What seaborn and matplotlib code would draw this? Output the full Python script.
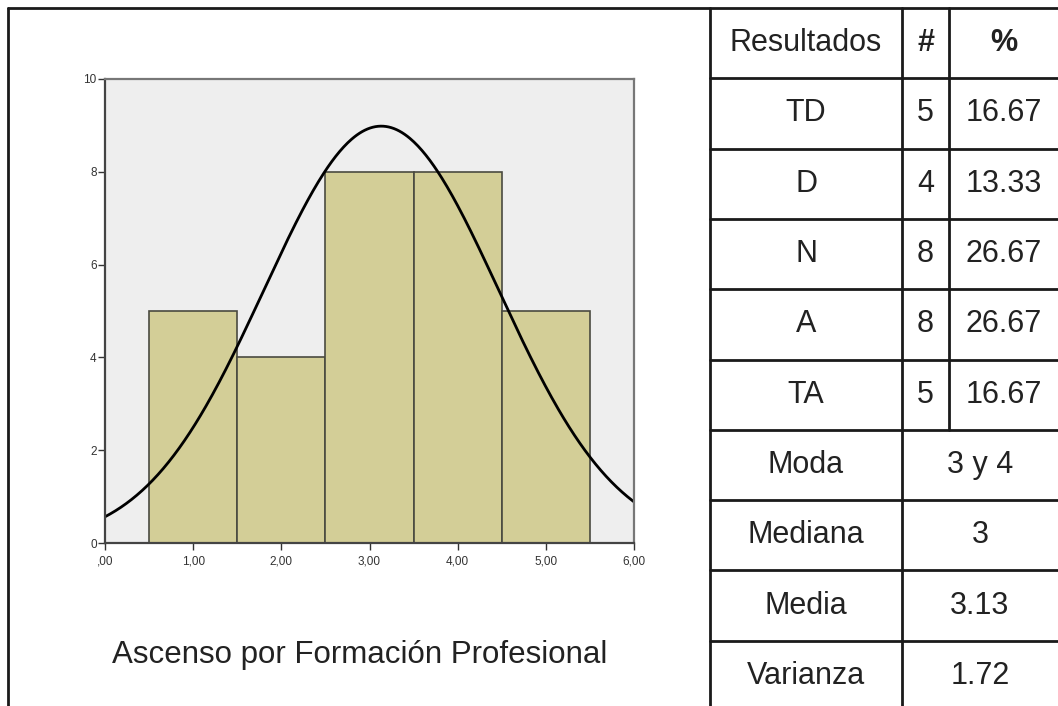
import numpy as np
import pandas as pd
import matplotlib
matplotlib.use("Agg")
import matplotlib.pyplot as plt
from matplotlib.lines import Line2D
import seaborn as sns

# ---------------- data ----------------
values = [1, 2, 3, 4, 5]
counts = [5, 4, 8, 8, 5]
bin_edges = [0.5, 1.5, 2.5, 3.5, 4.5, 5.5]
x_ticks = [0, 1, 2, 3, 4, 5, 6]
x_ticklabels = [",00", "1,00", "2,00", "3,00", "4,00", "5,00", "6,00"]
y_ticks = [0, 2, 4, 6, 8, 10]
chart_title = "Ascenso por Formación Profesional"

table_header = ["Resultados", "#", "%"]
row_labels = ["TD", "D", "N", "A", "TA"]
row_counts = ["5", "4", "8", "8", "5"]
row_pcts = ["16.67", "13.33", "26.67", "26.67", "16.67"]
stat_labels = ["Moda", "Mediana", "Media", "Varianza"]
stat_values = ["3 y 4", "3", "3.13", "1.72"]

# ---------------- figure ----------------
sns.set_style("white")
plt.rcParams["font.family"] = ["Liberation Sans", "DejaVu Sans"]

W, H = 1058, 706
fig = plt.figure(figsize=(W / 100, H / 100), dpi=100)


def fx(px):
    return px / W


def fy(py):
    return 1 - py / H


# axes placement (pixels)
ax_l, ax_r, ax_t, ax_b = 105, 634, 79, 543
ax = fig.add_axes([fx(ax_l), fy(ax_b), fx(ax_r - ax_l), fy(ax_t) - fy(ax_b)])
ax.set_facecolor("#EEEEEE")

df = pd.DataFrame({"valor": values, "n": counts})
sns.histplot(data=df, x="valor", weights="n", bins=bin_edges, ax=ax,
             color="#D3CE97", alpha=1.0, edgecolor="#4a4a40", linewidth=1.2)

# normal curve fitted to the data
obs = np.repeat(values, counts)
mu = obs.mean()
sd = obs.std(ddof=1)
n = len(obs)
bw = bin_edges[1] - bin_edges[0]
xs = np.linspace(0, 6, 400)
ys = n * bw * np.exp(-0.5 * ((xs - mu) / sd) ** 2) / (sd * np.sqrt(2 * np.pi))
sns.lineplot(x=xs, y=ys, ax=ax, color="black", linewidth=2.0)

ax.set_xlim(0, 6)
ax.set_ylim(0, 10)
ax.set_xticks(x_ticks)
ax.set_xticklabels(x_ticklabels)
ax.set_yticks(y_ticks)
ax.set_xlabel("")
ax.set_ylabel("")
ax.tick_params(axis="both", which="both", direction="out", length=5, width=1,
               colors="#333333", labelsize=8.5, bottom=True, left=True)
ax.tick_params(axis="x", pad=4)
ax.tick_params(axis="y", pad=1)
for s in ["left", "bottom"]:
    ax.spines[s].set_color("#444444")
    ax.spines[s].set_linewidth(1.6)
for s in ["top", "right"]:
    ax.spines[s].set_visible(True)
    ax.spines[s].set_color("#777777")
    ax.spines[s].set_linewidth(1.6)

# title under the chart
fig.text(fx(360), fy(655), chart_title, ha="center", va="center",
         fontsize=22.5, color="#222222")

# ---------------- frame and table ----------------
lc = "#1a1a1a"
lw = 2.0
frame_l, frame_t = 8, 8
fig.add_artist(Line2D([fx(frame_l), 1], [fy(frame_t), fy(frame_t)], color=lc, lw=lw))
fig.add_artist(Line2D([fx(frame_l), fx(frame_l)], [fy(frame_t), 0], color=lc, lw=lw))

tab_l, col1, col2, tab_r = 710, 902, 949, 1058
row_top = 8
row_h = 70.3
n_rows = 1 + len(row_labels) + len(stat_labels)
row_edges = [row_top + i * row_h for i in range(n_rows + 1)]

fig.add_artist(Line2D([fx(tab_l), fx(tab_l)], [fy(row_top), 0], color=lc, lw=lw))
fig.add_artist(Line2D([fx(col1), fx(col1)], [fy(row_top), 0], color=lc, lw=lw))
split_y = row_edges[1 + len(row_labels)]
fig.add_artist(Line2D([fx(col2), fx(col2)], [fy(row_top), fy(split_y)], color=lc, lw=lw))
for yb in row_edges[1:-1]:
    fig.add_artist(Line2D([fx(tab_l), 1], [fy(yb), fy(yb)], color=lc, lw=lw))

fs = 22
tc = "#222222"
c0 = (tab_l + col1) / 2
c1 = (col1 + col2) / 2
c2 = (col2 + tab_r) / 2
cm = (col1 + tab_r) / 2


def cy(i):
    return fy((row_edges[i] + row_edges[i + 1]) / 2)


fig.text(fx(c0), cy(0), table_header[0], ha="center", va="center", fontsize=fs, color=tc)
fig.text(fx(c1), cy(0), table_header[1], ha="center", va="center", fontsize=fs,
         color=tc, fontweight="bold")
fig.text(fx(c2), cy(0), table_header[2], ha="center", va="center", fontsize=fs,
         color=tc, fontweight="bold")
for i, (lab, cnt, pct) in enumerate(zip(row_labels, row_counts, row_pcts)):
    r = i + 1
    fig.text(fx(c0), cy(r), lab, ha="center", va="center", fontsize=fs, color=tc)
    fig.text(fx(c1), cy(r), cnt, ha="center", va="center", fontsize=fs, color=tc)
    fig.text(fx(c2), cy(r), pct, ha="center", va="center", fontsize=fs, color=tc)
for j, (lab, val) in enumerate(zip(stat_labels, stat_values)):
    r = 1 + len(row_labels) + j
    fig.text(fx(c0), cy(r), lab, ha="center", va="center", fontsize=fs, color=tc)
    fig.text(fx(cm), cy(r), val, ha="center", va="center", fontsize=fs, color=tc)

fig.savefig("out.png", dpi=100, facecolor="white")
